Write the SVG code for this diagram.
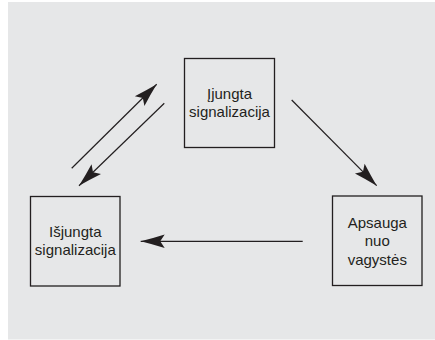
<svg xmlns="http://www.w3.org/2000/svg" width="435" height="340" viewBox="0 0 435 340">
<style>
.box{fill:#e6e7e8;stroke:#231f20;stroke-width:1.3}
.lbl{font-family:"Liberation Sans",Arial,sans-serif;font-size:15px;fill:#231f20;text-anchor:middle}
.conn{stroke:#231f20;stroke-width:1.2;fill:none;marker-end:url(#ah)}
</style>
<defs>
<marker id="ah" markerUnits="userSpaceOnUse" viewBox="-26 -8 28 16" refX="0" refY="0" markerWidth="28" markerHeight="16" orient="auto">
<path d="M0,0 Q-12,-3 -24,-6.8 L-19.5,0 L-24,6.8 Q-12,3 0,0 Z" fill="#231f20"/>
</marker>
</defs>
<rect x="8" y="2" width="427" height="337.5" fill="#e6e7e8"/>
<g id="nodes">
<g id="ijungta">
<rect class="box" x="184.5" y="58.5" width="90" height="89"/>
<text class="lbl" x="229.5" y="99"><tspan x="229.5">Įjungta</tspan><tspan x="229.5" dy="18">signalizacija</tspan></text>
</g>
<g id="isjungta">
<rect class="box" x="30.5" y="196.5" width="89.5" height="89.5"/>
<text class="lbl" x="75.3" y="237"><tspan x="75.3">Išjungta</tspan><tspan x="75.3" dy="18">signalizacija</tspan></text>
</g>
<g id="apsauga">
<rect class="box" x="332.5" y="196" width="89.5" height="89.5"/>
<text class="lbl" x="377.3" y="227.5"><tspan x="377.3">Apsauga</tspan><tspan x="377.3" dy="18.5">nuo</tspan><tspan x="377.3" dy="18.5">vagystės</tspan></text>
</g>
</g>
<g id="connectors">
<line class="conn" x1="71.7" y1="168.3" x2="156.7" y2="84.3"/>
<line class="conn" x1="164.3" y1="103.3" x2="79" y2="185.7"/>
<line class="conn" x1="291.7" y1="100" x2="376.7" y2="185.7"/>
<line class="conn" x1="302.7" y1="241.3" x2="140.7" y2="241.3"/>
</g>
</svg>
